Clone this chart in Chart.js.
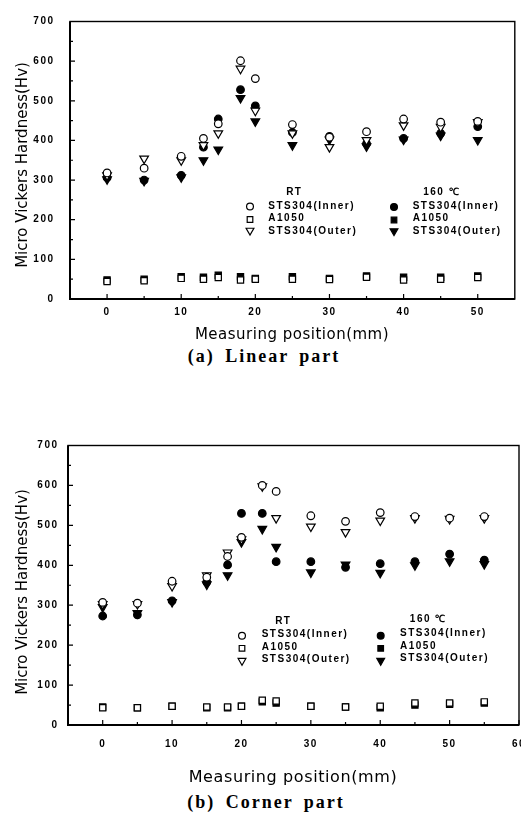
<!DOCTYPE html>
<html><head><meta charset="utf-8">
<script src="https://cdn.jsdelivr.net/npm/chart.js@4/dist/chart.umd.min.js"></script>
<style>
html,body{margin:0;padding:0;background:#fff;width:521px;height:815px;overflow:hidden;position:relative}
#wa{position:absolute;left:0;top:0;width:521px;height:345px}
#wb{position:absolute;left:0;top:430px;width:545px;height:360px}
.cap{position:absolute;left:0;text-align:center;font:bold 18px "Liberation Serif","Times New Roman",serif;letter-spacing:2px;word-spacing:4px;line-height:18px;color:#000;white-space:pre}
</style></head><body>
<div id="wa"><canvas id="ca" width="521" height="345"></canvas></div>
<div class="cap" style="top:347px;width:528px">(a) Linear part</div>
<div id="wb"><canvas id="cb" width="545" height="360"></canvas></div>
<div class="cap" style="top:793px;width:532px">(b) Corner part</div>
<script>
// ---------- data ----------
const seriesNames = ['STS304(Inner)', 'A1050', 'STS304(Outer)'];
const groupTitles = ['RT', '160 \u2103'];
const yTitle = 'Micro Vickers Hardness(Hv)';
const xTitle = 'Measuring position(mm)';
const yTicks = [0, 100, 200, 300, 400, 500, 600, 700];
const xTicksA = [0, 10, 20, 30, 40, 50];
const xTicksB = [0, 10, 20, 30, 40, 50, 60];

// (a) Linear part
const posA        = [0, 5, 10, 13, 15, 18, 20, 25, 30, 35, 40, 45, 50];
const rtInnerA    = [318, 330, 360, 405, 442, 601, 556, 440, 408, 422, 454, 446, 448];
const rtAlA       = [44, 46, 52, 50, 54, 48, 50, 50, 49, 55, 48, 50, 54];
const rtOuterA    = [312, 354, 350, 388, 418, 581, 475, 418, 383, 401, 438, 434, 446];
const hotInnerA   = [306, 300, 312, 383, 454, 528, 487, 420, 410, 392, 405, 418, 435];
const hotAlA      = [48, 50, 56, 55, 60, 56, 52, 56, 52, 58, 55, 55, 58];
const hotOuterA   = [302, 298, 307, 350, 377, 507, 448, 388, 402, 385, 402, 412, 401];

// (b) Corner part
const posB        = [0, 5, 10, 15, 18, 20, 23, 25, 30, 35, 40, 45, 50, 55];
const rtInnerB    = [307, 305, 360, 370, 422, 470, 600, 585, 524, 510, 532, 522, 518, 522];
const rtAlB       = [43, 43, 47, 45, 45, 47, 62, 60, 47, 45, 47, 55, 55, 58];
const rtOuterB    = [303, 303, 348, 375, 432, 465, 598, 518, 497, 483, 512, 518, 516, 518];
const hotInnerB   = [273, 276, 311, 358, 401, 530, 530, 409, 409, 395, 404, 409, 428, 413];
const hotAlB      = [45, 43, 47, 43, 43, 47, 58, 55, 47, 45, 43, 50, 52, 55];
const hotOuterB   = [295, 280, 308, 352, 375, 458, 491, 446, 382, 402, 381, 400, 410, 403];

// ---------- styles ----------
const markStyles = [
  {pointStyle: 'circle',   radius: 3.8, rotation: 0,   fill: '#fff'},
  {pointStyle: 'rect',     radius: 4.4, rotation: 0,   fill: '#fff'},
  {pointStyle: 'triangle', radius: 5,   rotation: 180, fill: '#fff'},
  {pointStyle: 'circle',   radius: 3.8, rotation: 0,   fill: '#000'},
  {pointStyle: 'rect',     radius: 4.4, rotation: 0,   fill: '#000'},
  {pointStyle: 'triangle', radius: 5,   rotation: 180, fill: '#000'}
];

function makeDatasets(xs, arrs) {
  return arrs.map((ys, i) => ({
    label: seriesNames[i % 3] + (i < 3 ? ' RT' : ' 160'),
    data: xs.map((x, j) => ({x: x, y: ys[j]})),
    pointStyle: markStyles[i].pointStyle,
    pointRadius: markStyles[i].radius,
    pointRotation: markStyles[i].rotation,
    pointBackgroundColor: markStyles[i].fill,
    pointBorderColor: '#000',
    pointBorderWidth: 1.2,
    showLine: false,
    clip: false
  }));
}

function drawMark(ctx, st, x, y) {
  const r = st.radius;
  ctx.beginPath();
  if (st.pointStyle === 'circle') {
    ctx.arc(x, y, r, 0, Math.PI * 2);
  } else if (st.pointStyle === 'rect') {
    const s = r * Math.SQRT1_2;
    ctx.rect(x - s, y - s, 2 * s, 2 * s);
  } else {
    ctx.moveTo(x - r * 0.866, y - r / 2);
    ctx.lineTo(x + r * 0.866, y - r / 2);
    ctx.lineTo(x, y + r);
    ctx.closePath();
  }
  ctx.fillStyle = st.fill;
  ctx.fill();
  ctx.lineWidth = 1.2;
  ctx.strokeStyle = '#000';
  ctx.stroke();
}

const decorPlugin = {
  id: 'decor',
  beforeDraw(chart) { chart.ctx.letterSpacing = '1.5px'; },
  beforeDatasetsDraw(chart) {
    const ctx = chart.ctx;
    ctx.letterSpacing = '0px';
    const a = chart.chartArea, xs = chart.scales.x, ys = chart.scales.y;
    ctx.save();
    ctx.strokeStyle = '#000';
    ctx.lineWidth = 1.4;
    ctx.strokeRect(a.left, a.top, a.right - a.left, a.bottom - a.top);
    ctx.lineWidth = 2;
    ctx.beginPath();
    ctx.moveTo(a.left, a.top); ctx.lineTo(a.left, a.bottom); ctx.lineTo(a.right, a.bottom);
    ctx.stroke();
    ctx.lineWidth = 1.2;
    const xv = xs.ticks.map(t => t.value), yv = ys.ticks.map(t => t.value);
    ctx.beginPath();
    xv.forEach(v => { const p = xs.getPixelForValue(v); ctx.moveTo(p, a.bottom); ctx.lineTo(p, a.bottom - 5); });
    for (let i = 0; i < xv.length - 1; i++) { const p = xs.getPixelForValue((xv[i] + xv[i + 1]) / 2); ctx.moveTo(p, a.bottom); ctx.lineTo(p, a.bottom - 3); }
    yv.forEach(v => { const p = ys.getPixelForValue(v); ctx.moveTo(a.left, p); ctx.lineTo(a.left + 5, p); });
    for (let i = 0; i < yv.length - 1; i++) { const p = ys.getPixelForValue((yv[i] + yv[i + 1]) / 2); ctx.moveTo(a.left, p); ctx.lineTo(a.left + 3, p); }
    ctx.stroke();
    ctx.restore();
  },
  afterDraw(chart, args, o) {
    const ctx = chart.ctx;
    ctx.save();
    ctx.fillStyle = '#000';
    // y title
    ctx.letterSpacing = '0px';
    ctx.font = '15px "DejaVu Sans"';
    ctx.textAlign = 'center';
    ctx.textBaseline = 'alphabetic';
    ctx.save();
    ctx.translate(o.yTitle.x, o.yTitle.y);
    ctx.rotate(-Math.PI / 2);
    ctx.fillText(yTitle, 0, 0);
    ctx.restore();
    // x title
    ctx.font = o.xTitle.font;
    ctx.letterSpacing = o.xTitle.spacing;
    ctx.fillText(xTitle, o.xTitle.x, o.xTitle.y);
    // legend
    ctx.letterSpacing = '1.5px';
    ctx.font = 'bold 10px "Liberation Sans", Arial, sans-serif';
    ctx.textBaseline = 'middle';
    o.legend.heads.forEach((h, g) => { ctx.textAlign = 'center'; ctx.fillText(groupTitles[g], h.x, h.y); });
    o.legend.cols.forEach((c, g) => {
      for (let k = 0; k < 3; k++) {
        drawMark(ctx, Object.assign({}, markStyles[g * 3 + k], {radius: markStyles[g * 3 + k].radius * 0.9}), c.mx, c.my[k]);
        ctx.fillStyle = '#000';
        ctx.textAlign = 'left';
        ctx.fillText(seriesNames[k], c.tx, c.ty[k]);
      }
    });
    ctx.restore();
  }
};

function makeChart(id, xs, arrs, xTicks, xMax, pad, yWidth, xHeight, yPad, xPad, decor) {
  return new Chart(document.getElementById(id), {
    type: 'scatter',
    data: {datasets: makeDatasets(xs, arrs)},
    options: {
      responsive: false,
      animation: false,
      events: [],
      layout: {padding: pad},
      plugins: {legend: {display: false}, tooltip: {enabled: false}, decor: decor},
      scales: {
        x: {
          type: 'linear', min: -5, max: xMax,
          afterBuildTicks: s => { s.ticks = xTicks.map(v => ({value: v})); },
          afterFit: s => { s.height = xHeight; },
          grid: {display: false, drawTicks: false}, border: {display: false},
          ticks: {padding: xPad, color: '#000', font: {family: '"Liberation Sans", Arial, sans-serif', size: 10, weight: 'bold'}}
        },
        y: {
          type: 'linear', min: 0, max: 700,
          afterBuildTicks: s => { s.ticks = yTicks.map(v => ({value: v})); },
          afterFit: s => { s.width = yWidth; },
          grid: {display: false, drawTicks: false}, border: {display: false},
          ticks: {padding: yPad, color: '#000', font: {family: '"Liberation Sans", Arial, sans-serif', size: 10, weight: 'bold'}}
        }
      }
    },
    plugins: [decorPlugin]
  });
}

makeChart('ca', posA, [rtInnerA, rtAlA, rtOuterA, hotInnerA, hotAlA, hotOuterA], xTicksA, 55,
  {top: 13, right: 3, left: 0, bottom: 0}, 70, 46, 15.5, 7, {
    yTitle: {x: 26.5, y: 165},
    xTitle: {x: 292, y: 339, font: '15px "DejaVu Sans"', spacing: '0.5px'},
    legend: {
      heads: [{x: 294.3, y: 192.7}, {x: 441.7, y: 192.7}],
      cols: [
        {mx: 250, my: [206.5, 219.5, 230.5], tx: 268.3, ty: [206, 218.3, 231]},
        {mx: 394, my: [207, 220, 231], tx: 412.7, ty: [206, 218.3, 231]}
      ]
    }
  });

makeChart('cb', posB, [rtInnerB, rtAlB, rtOuterB, hotInnerB, hotAlB, hotOuterB], xTicksB, 60,
  {top: 10, right: 26, left: 0, bottom: 0}, 68, 65, 9.5, 13, {
    yTitle: {x: 26.5, y: 162},
    xTitle: {x: 293, y: 351.7, font: '16px "DejaVu Sans"', spacing: '0.6px'},
    legend: {
      heads: [{x: 283.3, y: 191}, {x: 428.3, y: 189}],
      cols: [
        {mx: 242, my: [205.7, 218.3, 230.7], tx: 261.7, ty: [204.3, 217.7, 229]},
        {mx: 380.7, my: [205.7, 218.3, 230.7], tx: 400, ty: [203.3, 216.7, 228.7]}
      ]
    }
  });
</script>
</body></html>
